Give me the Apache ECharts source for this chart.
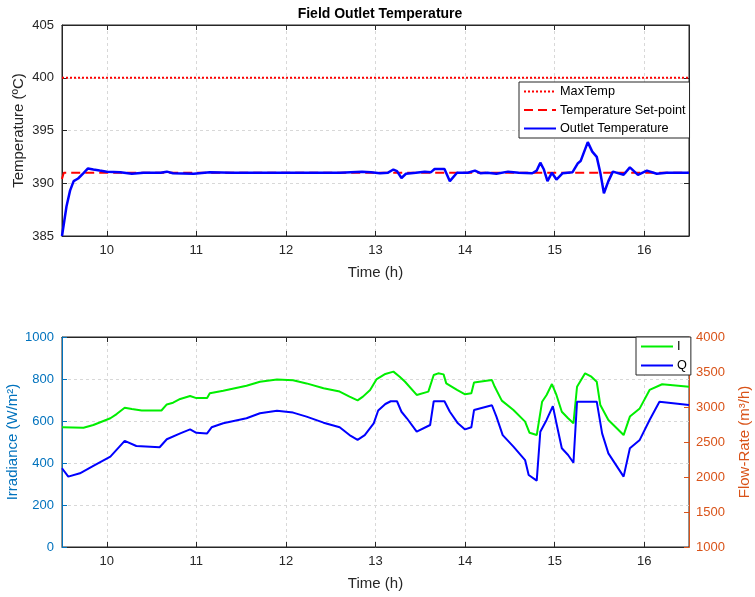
<!DOCTYPE html>
<html>
<head>
<meta charset="utf-8">
<script src="https://cdn.jsdelivr.net/npm/echarts@6/dist/echarts.min.js"></script>
<style>
  html, body { margin: 0; padding: 0; background: #fff; }
  #main { width: 755px; height: 597px; }
</style>
</head>
<body>
<div id="main"></div>
<script>
// x ticks shared by both plots
const hourTicks = [10, 11, 12, 13, 14, 15, 16];

// top plot: field outlet temperature
const maxTempTime = [9.5, 16.5];
const maxTempValue = [400, 400];
const setPointTime = [9.5, 9.52, 16.5];
const setPointValue = [390.4, 391, 391];
const outletTime = [9.50, 9.55, 9.59, 9.63, 9.68, 9.74, 9.79, 9.85, 9.92, 10.00, 10.15, 10.28, 10.41, 10.60, 10.67, 10.74, 10.97, 11.15, 11.40, 11.70, 12.00, 12.30, 12.60, 12.85, 12.95, 13.05, 13.14, 13.20, 13.24, 13.29, 13.34, 13.45, 13.55, 13.62, 13.66, 13.77, 13.83, 13.91, 14.03, 14.11, 14.17, 14.25, 14.35, 14.48, 14.60, 14.75, 14.80, 14.84, 14.88, 14.92, 14.97, 15.02, 15.09, 15.20, 15.26, 15.29, 15.37, 15.42, 15.47, 15.51, 15.55, 15.60, 15.65, 15.77, 15.84, 15.93, 16.03, 16.14, 16.25, 16.50];
const outletTemp = [385.0, 387.8, 389.3, 390.2, 390.45, 390.95, 391.4, 391.3, 391.2, 391.1, 391.05, 390.9, 391.0, 391.0, 391.1, 390.95, 390.9, 391.05, 391.0, 391.0, 391.0, 391.0, 391.0, 391.1, 391.05, 390.95, 391.0, 391.3, 391.15, 390.5, 390.9, 391.0, 391.1, 391.05, 391.35, 391.35, 390.2, 391.0, 391.0, 391.2, 390.95, 391.0, 390.9, 391.1, 391.0, 390.95, 391.2, 391.95, 391.3, 390.2, 391.0, 390.35, 390.95, 391.05, 391.9, 392.1, 393.9, 393.0, 392.5, 391.0, 389.05, 390.2, 391.1, 390.8, 391.5, 390.8, 391.2, 390.9, 391.0, 391.0];

// bottom plot: irradiance (left axis) and flow rate (right axis)
const irrTime = [9.50, 9.74, 9.85, 10.04, 10.11, 10.20, 10.28, 10.39, 10.61, 10.67, 10.74, 10.82, 10.93, 11.00, 11.12, 11.15, 11.30, 11.56, 11.71, 11.90, 12.08, 12.23, 12.42, 12.60, 12.71, 12.80, 12.86, 12.94, 13.01, 13.11, 13.20, 13.27, 13.33, 13.46, 13.59, 13.65, 13.70, 13.76, 13.79, 13.91, 14.00, 14.07, 14.10, 14.30, 14.33, 14.41, 14.54, 14.67, 14.72, 14.80, 14.86, 14.91, 14.97, 15.02, 15.08, 15.15, 15.21, 15.25, 15.34, 15.41, 15.47, 15.51, 15.60, 15.77, 15.84, 15.95, 16.06, 16.20, 16.50];
const irradiance = [570, 568, 581, 613, 633, 663, 657, 650, 650, 679, 687, 705, 719, 709, 709, 732, 744, 768, 787, 798, 794, 779, 756, 740, 716, 698, 716, 748, 798, 824, 835, 811, 787, 724, 740, 819, 827, 822, 779, 748, 727, 732, 783, 795, 764, 697, 652, 597, 544, 533, 692, 724, 776, 724, 644, 613, 589, 763, 827, 811, 787, 676, 605, 533, 621, 660, 748, 775, 763];
const flowTime = [9.50, 9.57, 9.70, 9.85, 10.04, 10.20, 10.33, 10.59, 10.67, 10.82, 10.93, 11.00, 11.12, 11.17, 11.30, 11.56, 11.71, 11.90, 12.08, 12.23, 12.42, 12.60, 12.71, 12.80, 12.88, 12.98, 13.03, 13.11, 13.17, 13.24, 13.29, 13.35, 13.46, 13.61, 13.65, 13.77, 13.83, 13.92, 14.00, 14.07, 14.10, 14.30, 14.35, 14.42, 14.54, 14.67, 14.71, 14.80, 14.84, 14.91, 14.98, 15.02, 15.08, 15.15, 15.21, 15.25, 15.47, 15.53, 15.60, 15.77, 15.84, 15.95, 16.06, 16.17, 16.50];
const flowRate = [2125, 2005, 2053, 2158, 2290, 2515, 2443, 2425, 2539, 2623, 2680, 2632, 2623, 2710, 2767, 2839, 2911, 2947, 2920, 2863, 2776, 2710, 2599, 2530, 2599, 2767, 2950, 3043, 3082, 3082, 2932, 2839, 2647, 2743, 3082, 3082, 2932, 2767, 2680, 2710, 2956, 3025, 2863, 2599, 2434, 2242, 2029, 1948, 2647, 2815, 3013, 2767, 2410, 2314, 2203, 3076, 3076, 2623, 2338, 2005, 2410, 2530, 2815, 3076, 3028];

const zip = (xs, ys) => xs.map((x, i) => [x, ys[i]]);

const dark = '#262626';
const blue = '#0072BD';
const orange = '#D95319';
const gridLine = { show: true, lineStyle: { color: '#d8d8d8', type: [3, 3], width: 1 } };
const plain = v => String(v);

function timeAxis(gridIndex, position, main) {
  return {
    type: 'value', gridIndex: gridIndex, position: position,
    min: 9.5, max: 16.5,
    name: main ? 'Time (h)' : '', nameLocation: 'middle', nameGap: 29, nameMoveOverlap: false,
    nameTextStyle: { fontSize: 15, color: dark },
    axisLine: { show: true, onZero: false, lineStyle: { color: dark, width: 1 } },
    axisTick: { show: true, inside: true, length: 5, customValues: hourTicks, lineStyle: { color: dark } },
    axisLabel: { show: main, customValues: hourTicks, fontSize: 13, color: dark, margin: 8, formatter: plain },
    splitLine: main ? gridLine : { show: false }
  };
}

function legendBox(names, left, top, gap) {
  return {
    data: names, orient: 'vertical', left: left, top: top,
    padding: [3, 4, 3, 4], itemGap: gap, itemWidth: 32, itemHeight: 14,
    backgroundColor: '#fff', borderColor: dark, borderWidth: 1,
    itemStyle: { opacity: 0 },
    textStyle: { fontSize: 12.7, color: '#000', padding: [0, 0, 0, -1] }
  };
}

var myChart = echarts.init(document.getElementById('main'));
var option = {
  animation: false,
  textStyle: { fontFamily: "'Liberation Sans', Arial, Helvetica, sans-serif" },
  title: {
    text: 'Field Outlet Temperature', left: 375, top: 2, textAlign: 'center',
    textStyle: { fontSize: 14, fontWeight: 'bold', color: '#000' }
  },
  grid: [
    { left: 62, width: 627, top: 25, height: 211, show: true, borderColor: dark, borderWidth: 1, outerBoundsMode: 'none', containLabel: false },
    { left: 62, width: 627, top: 337, height: 210, show: true, borderColor: dark, borderWidth: 1, outerBoundsMode: 'none', containLabel: false }
  ],
  legend: [
    legendBox(['MaxTemp', 'Temperature Set-point', 'Outlet Temperature'], 519, 82, 5.5),
    legendBox(['I', 'Q'], 636, 337, 6)
  ],
  xAxis: [
    timeAxis(0, 'bottom', true),
    timeAxis(0, 'top', false),
    timeAxis(1, 'bottom', true),
    timeAxis(1, 'top', false)
  ],
  yAxis: [
    {
      type: 'value', gridIndex: 0, position: 'left', min: 385, max: 405, interval: 5,
      name: 'Temperature (ºC)', nameLocation: 'middle', nameGap: 36, nameMoveOverlap: false,
      nameTextStyle: { fontSize: 15, color: dark },
      axisLine: { show: true, lineStyle: { color: dark } },
      axisTick: { show: true, inside: true, length: 5, lineStyle: { color: dark } },
      axisLabel: { fontSize: 13, color: dark, margin: 8, formatter: plain },
      splitLine: gridLine
    },
    {
      type: 'value', gridIndex: 0, position: 'right', min: 385, max: 405, interval: 5,
      axisLine: { show: true, lineStyle: { color: dark } },
      axisTick: { show: true, inside: true, length: 5, lineStyle: { color: dark } },
      axisLabel: { show: false }, splitLine: { show: false }
    },
    {
      type: 'value', gridIndex: 1, position: 'left', min: 0, max: 1000, interval: 200,
      name: 'Irradiance (W/m²)', nameLocation: 'middle', nameGap: 42, nameMoveOverlap: false,
      nameTextStyle: { fontSize: 15, color: blue },
      axisLine: { show: true, lineStyle: { color: blue } },
      axisTick: { show: true, inside: true, length: 5, lineStyle: { color: blue } },
      axisLabel: { fontSize: 13, color: blue, margin: 8, formatter: plain },
      splitLine: gridLine
    },
    {
      type: 'value', gridIndex: 1, position: 'right', min: 1000, max: 4000, interval: 500,
      name: 'Flow-Rate (m³/h)', nameLocation: 'middle', nameGap: 48, nameMoveOverlap: false,
      nameTextStyle: { fontSize: 15, color: orange },
      axisLine: { show: true, lineStyle: { color: orange } },
      axisTick: { show: true, inside: true, length: 5, lineStyle: { color: orange } },
      axisLabel: { fontSize: 13, color: orange, margin: 7, formatter: plain },
      splitLine: { show: false }
    }
  ],
  series: [
    {
      name: 'MaxTemp', type: 'line', xAxisIndex: 0, yAxisIndex: 0,
      data: zip(maxTempTime, maxTempValue), symbol: 'none', color: '#ff0000',
      lineStyle: { color: '#ff0000', width: 2, type: [2, 2] }
    },
    {
      name: 'Temperature Set-point', type: 'line', xAxisIndex: 0, yAxisIndex: 0,
      data: zip(setPointTime, setPointValue), symbol: 'none', color: '#ff0000',
      lineStyle: { color: '#ff0000', width: 2, type: [9, 5] }
    },
    {
      name: 'Outlet Temperature', type: 'line', xAxisIndex: 0, yAxisIndex: 0,
      data: zip(outletTime, outletTemp), symbol: 'none', color: '#0000ff',
      lineStyle: { color: '#0000ff', width: 2.5 }
    },
    {
      name: 'I', type: 'line', xAxisIndex: 2, yAxisIndex: 2,
      data: zip(irrTime, irradiance), symbol: 'none', color: '#00ee00',
      lineStyle: { color: '#00ee00', width: 2 }
    },
    {
      name: 'Q', type: 'line', xAxisIndex: 2, yAxisIndex: 3,
      data: zip(flowTime, flowRate), symbol: 'none', color: '#0000ff',
      lineStyle: { color: '#0000ff', width: 2 }
    }
  ]
};
myChart.setOption(option);
</script>
</body>
</html>
